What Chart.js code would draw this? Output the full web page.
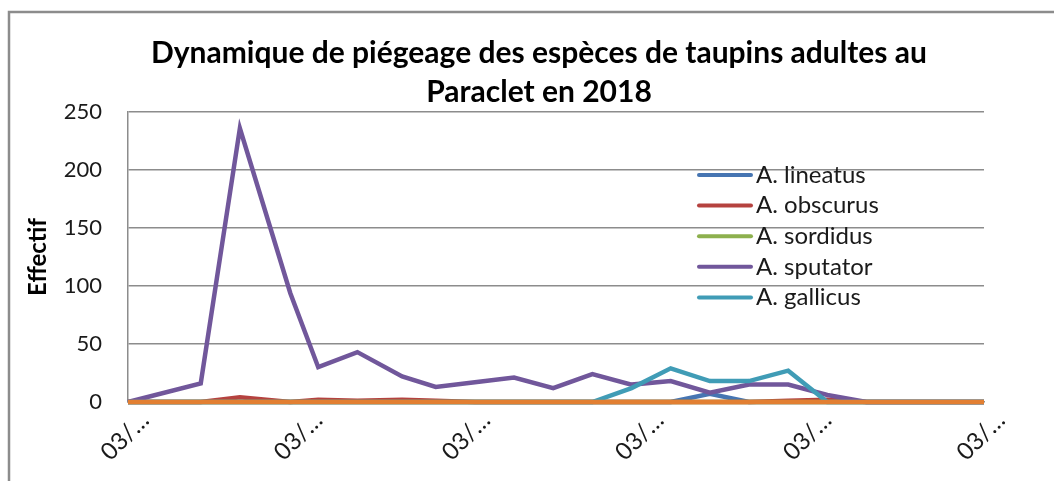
<!DOCTYPE html>
<html>
<head>
<meta charset="utf-8">
<script src="https://cdn.jsdelivr.net/npm/chart.js@4/dist/chart.umd.min.js"></script>
<style>
  html, body { margin: 0; padding: 0; background: #fff; }
  #wrap { width: 1054px; height: 481px; position: relative; }
</style>
</head>
<body>
<div id="wrap"><canvas id="chart"></canvas></div>
<script>
// sampling days, counted from 03/03/2018
const sampleDays = [0, 13, 20, 29, 34, 41, 49, 55, 62, 69, 76, 83, 90, 97, 104, 111, 118, 125, 132, 139, 146, 153];
// axis labels: the 3rd of each month (03/03 ... 03/08)
const monthTicks = [0, 31, 61, 92, 122, 153];
const tickLabel = '03/…';

const titleLines = ['Dynamique de piégeage des espèces de taupins adultes au', 'Paraclet en 2018'];
const speciesNames = ['A. lineatus', 'A. obscurus', 'A. sordidus', 'A. sputator', 'A. gallicus', 'Autres'];
const lineatus = [0, 0, 0, 0, 0, 0, 0, 0, 0, 0, 0, 0, 0, 0, 7, 0, 0, 0, 0, 0, 0, 0];
const obscurus = [0, 0, 4, 0, 2, 1, 2, 1, 0, 0, 0, 0, 0, 0, 0, 0, 1, 2, 0, 0, 0, 0];
const sordidus = [0, 0, 0, 0, 0, 0, 0, 0, 0, 0, 0, 0, 0, 0, 0, 0, 0, 0, 0, 0, 0, 0];
const sputator = [0, 16, 236, 94, 30, 43, 22, 13, 17, 21, 12, 24, 15, 18, 8, 15, 15, 6, 0, 0, 0, 0];
const gallicus = [0, 0, 0, 0, 0, 0, 0, 0, 0, 0, 0, 0, 12, 29, 18, 18, 27, 0, 0, 0, 0, 0];
const autres = [0, 0, 0, 0, 0, 0, 0, 0, 0, 0, 0, 0, 0, 0, 0, 0, 0, 0, 0, 0, 0, 0];

const seriesValues = [lineatus, obscurus, sordidus, sputator, gallicus, autres];
const seriesColors = ['#4675B2', '#B5423F', '#8DB04E', '#71579B', '#409CB6', '#E27F32'];
const legendCount = 5; // the orange series does not show in the legend box

const fontFamily = 'Lato, "Open Sans", sans-serif';

// white background + grey frame around the whole chart
const framePlugin = {
    id: 'frame',
    beforeDraw(chart) {
        const ctx = chart.ctx;
        ctx.save();
        ctx.fillStyle = '#fff';
        ctx.fillRect(0, 0, chart.width, chart.height);
        ctx.strokeStyle = '#8c8c8c';
        ctx.lineWidth = 2.5;
        ctx.strokeRect(9, 12, chart.width + 20, chart.height + 20);
        ctx.restore();
    }
};

// title, centred a little right of the canvas middle as in the original
const titlePlugin = {
    id: 'twoLineTitle',
    afterDraw(chart) {
        const ctx = chart.ctx;
        ctx.save();
        ctx.font = 'bold 30px ' + fontFamily;
        ctx.fillStyle = '#000';
        ctx.textAlign = 'center';
        ctx.textBaseline = 'alphabetic';
        ctx.fillText(titleLines[0], 539, 63);
        ctx.fillText(titleLines[1], 539, 102);
        ctx.restore();
    }
};

// legend drawn inside the plot, like the Excel one
const innerLegend = {
    id: 'innerLegend',
    afterDraw(chart) {
        const ctx = chart.ctx;
        ctx.save();
        ctx.font = '24px ' + fontFamily;
        ctx.textBaseline = 'middle';
        ctx.lineCap = 'round';
        chart.data.datasets.slice(0, legendCount).forEach((ds, i) => {
            const y = 175 + i * 30.6;
            ctx.strokeStyle = ds.borderColor;
            ctx.lineWidth = 4;
            ctx.beginPath();
            ctx.moveTo(699, y);
            ctx.lineTo(751, y);
            ctx.stroke();
            ctx.fillStyle = '#1a1a1a';
            ctx.fillText(ds.label, 756, y);
        });
        ctx.restore();
    }
};

const datasets = speciesNames.map((name, i) => ({
    label: name,
    data: sampleDays.map((d, j) => ({ x: d, y: seriesValues[i][j] })),
    borderColor: seriesColors[i],
    backgroundColor: seriesColors[i],
    borderWidth: 4.5,
    pointRadius: 0,
    tension: 0,
    clip: false,
    order: speciesNames.length - i
}));

new Chart(document.getElementById('chart'), {
    type: 'line',
    data: { datasets: datasets },
    options: {
        responsive: true,
        maintainAspectRatio: false,
        animation: false,
        devicePixelRatio: 1,
        layout: { padding: { left: 0, right: 70, top: 112, bottom: 0 } },
        plugins: {
            legend: { display: false },
            tooltip: { enabled: false },
            title: { display: false }
        },
        scales: {
            x: {
                type: 'linear',
                min: 0,
                max: 153,
                afterBuildTicks: scale => { scale.ticks = monthTicks.map(v => ({ value: v })); },
                afterFit: scale => { scale.height = 79; },
                grid: { display: false, drawTicks: false },
                border: { display: true, color: '#8c8c8c', width: 1.5 },
                ticks: {
                    autoSkip: false,
                    minRotation: 45,
                    maxRotation: 45,
                    padding: 4,
                    labelOffset: 17,
                    color: '#1a1a1a',
                    font: { family: fontFamily, size: 24 },
                    callback: () => tickLabel
                }
            },
            y: {
                min: 0,
                max: 250,
                afterFit: scale => { scale.width = 128; },
                grid: { color: '#8c8c8c', lineWidth: 1.5, drawTicks: false },
                border: { color: '#8c8c8c', width: 1.5 },
                ticks: {
                    stepSize: 50,
                    padding: 26,
                    color: '#1a1a1a',
                    font: { family: fontFamily, size: 22 }
                },
                title: {
                    display: true,
                    text: 'Effectif',
                    color: '#000',
                    font: { family: fontFamily, size: 24, weight: 'bold' },
                    padding: { top: 24, bottom: 0 }
                }
            }
        }
    },
    plugins: [framePlugin, titlePlugin, innerLegend]
});
</script>
</body>
</html>
